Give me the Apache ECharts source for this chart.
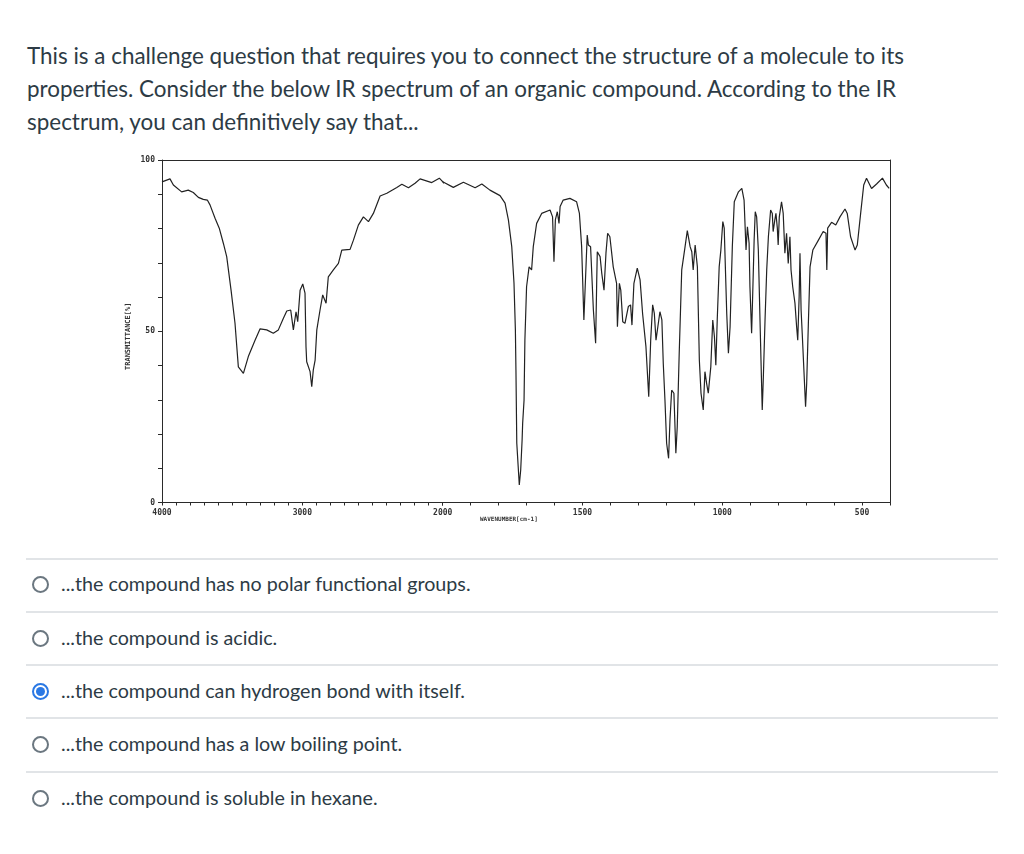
<!DOCTYPE html>
<html>
<head>
<meta charset="utf-8">
<script src="https://cdn.jsdelivr.net/npm/echarts@6/dist/echarts.min.js"></script>
<style>
  body{margin:0;background:#fff;font-family:Lato,"Open Sans",sans-serif;color:#2d3b45;}
  .page{position:relative;width:1024px;height:854px;overflow:hidden;}
  .question{position:absolute;left:27px;top:39px;width:905px;font-size:22.45px;line-height:33px;}
  .irChart{position:absolute;left:100px;top:150px;width:820px;height:390px;}
  .sep{position:absolute;left:26px;width:972px;height:2px;background:#e1e4e7;}
  .opt{position:absolute;left:61px;font-size:19.7px;line-height:24px;}
  .radio{position:absolute;left:32px;width:13px;height:13px;border:2px solid #6b7780;border-radius:50%;}
  .radio.on{border-color:#2a78e4;}
  .radio.on::after{content:"";position:absolute;left:2px;top:2px;width:9px;height:9px;border-radius:50%;background:#2a78e4;}
</style>
</head>
<body>
<div class="page">
  <div class="question">This is a challenge question that requires you to connect the structure of a molecule to its properties. Consider the below IR spectrum of an organic compound. According to the IR spectrum, you can definitively say that...</div>
  <div class="irChart" id="irChart"></div>

  <div class="sep" style="top:558px"></div>
  <div class="radio" style="top:576px"></div>
  <div class="opt" style="top:572px">...the compound has no polar functional groups.</div>

  <div class="sep" style="top:611px"></div>
  <div class="radio" style="top:630px"></div>
  <div class="opt" style="top:626px">...the compound is acidic.</div>

  <div class="sep" style="top:664px"></div>
  <div class="radio on" style="top:683px"></div>
  <div class="opt" style="top:679px">...the compound can hydrogen bond with itself.</div>

  <div class="sep" style="top:717px"></div>
  <div class="radio" style="top:736px"></div>
  <div class="opt" style="top:732px">...the compound has a low boiling point.</div>

  <div class="sep" style="top:771px"></div>
  <div class="radio" style="top:790px"></div>
  <div class="opt" style="top:786px">...the compound is soluble in hexane.</div>
</div>

<script>
// wavenumber (cm-1) and transmittance (%)
const wavenumber = [
  4000, 3943, 3919, 3860, 3813, 3777, 3741, 3706, 3677, 3658, 3622, 3592, 3563, 3539, 3508, 3480,
  3456, 3420, 3385, 3337, 3301, 3254, 3207, 3171, 3135, 3111, 3083, 3064, 3045, 3033, 3016, 2997,
  2981, 2974, 2969, 2945, 2933, 2922, 2909, 2897, 2874, 2855, 2831, 2815, 2779, 2743, 2719, 2660,
  2636, 2601, 2565, 2529, 2494, 2446, 2398, 2327, 2291, 2244, 2197, 2161, 2078, 2024,
  1962, 1926, 1884, 1860, 1831, 1795, 1777, 1765, 1753, 1745, 1740, 1738, 1735, 1730, 1726, 1721,
  1716, 1714, 1709, 1706, 1700, 1691, 1685, 1682, 1676, 1664, 1646, 1616, 1607, 1602, 1597, 1590,
  1584, 1580, 1569, 1545, 1521, 1511, 1503, 1495, 1487, 1483, 1479, 1471, 1461, 1453, 1449, 1447,
  1437, 1431, 1423, 1416, 1410, 1402, 1390, 1378, 1375, 1368, 1363, 1356, 1348, 1336, 1328, 1323,
  1316, 1304, 1294, 1285, 1273, 1263, 1256, 1249, 1243, 1237, 1231, 1223, 1216, 1211, 1205, 1199,
  1192, 1187, 1181, 1173, 1166, 1161, 1154, 1145, 1133, 1125, 1115, 1109, 1104, 1097, 1089, 1082,
  1076, 1068, 1062, 1056, 1050, 1041, 1034, 1028, 1023, 1018, 1011, 1005, 998, 993, 984, 978,
  972, 964, 957, 942, 930, 922, 915, 910, 904, 901, 895, 891, 886, 882, 877, 871,
  865, 860, 857, 853, 847, 841, 835, 827, 821, 818, 812, 808, 803, 800, 796, 788,
  782, 776, 770, 764, 758, 754, 748, 740, 734, 730, 725, 722, 718, 714, 708, 702,
  698, 692, 686, 676, 656, 639, 629, 626, 623, 609, 594, 579, 561, 553, 541, 525,
  517, 505, 494, 484, 466, 448, 427, 413, 403
];
const transmittance = [
  93.6, 94.5, 92.7, 90.7, 91.2, 90.5, 89.1, 88.5, 88.3, 86.9, 83.0, 80.1, 75.7, 71.8, 62.0, 52.4,
  39.6, 37.7, 42.6, 47.4, 50.7, 50.4, 49.4, 50.4, 53.8, 55.9, 56.2, 50.4, 55.7, 52.8, 62.0, 63.8,
  61.1, 45.5, 41.1, 38.2, 33.8, 38.7, 41.6, 50.4, 56.2, 60.6, 58.2, 65.9, 67.9, 69.8, 73.7, 73.9,
  76.6, 81.0, 83.4, 82.0, 84.4, 89.5, 90.3, 92.0, 92.9, 91.9, 93.2, 94.5, 93.4, 94.7,
  92.0, 93.5, 91.9, 93.0, 91.2, 89.6, 87.4, 82.5, 74.7, 64.1, 50.4, 38.7, 17.3, 10.5, 5.1, 9.5,
  18.2, 23.1, 29.9, 47.4, 63.0, 68.8, 69.3, 67.9, 74.7, 81.5, 84.4, 85.4, 83.4, 70.3, 82.5, 84.9,
  81.5, 86.4, 88.3, 88.8, 87.8, 84.4, 74.7, 53.3, 69.8, 78.1, 75.2, 74.7, 56.2, 46.5, 65.0, 73.2,
  71.8, 66.9, 62.0, 72.8, 78.6, 77.6, 68.8, 64.0, 51.3, 64.0, 62.0, 52.8, 52.3, 57.2, 57.7, 51.8,
  64.0, 68.4, 65.0, 55.2, 45.5, 30.9, 47.4, 57.7, 55.2, 47.4, 46.9, 55.7, 53.3, 40.6, 29.9, 17.3,
  12.9, 24.1, 32.8, 31.9, 14.4, 22.1, 43.6, 67.9, 74.7, 79.4, 74.7, 73.2, 67.9, 75.2, 68.8, 41.6,
  31.9, 27.0, 38.2, 34.8, 31.9, 39.6, 53.3, 48.4, 40.1, 53.3, 68.8, 73.7, 82.0, 80.1, 55.2, 43.6,
  51.3, 74.7, 87.8, 90.7, 91.7, 88.3, 73.7, 80.5, 75.7, 63.0, 49.4, 61.1, 76.6, 84.9, 83.4, 73.7,
  53.3, 36.7, 27.0, 36.7, 53.3, 67.9, 77.6, 85.4, 84.4, 79.1, 82.5, 84.4, 80.1, 75.2, 83.4, 87.8,
  84.4, 72.8, 78.6, 69.8, 77.6, 67.9, 63.0, 58.2, 51.3, 47.4, 60.1, 72.8, 56.2, 49.4, 38.7, 28.0,
  34.8, 52.3, 68.8, 73.7, 76.6, 79.1, 78.6, 67.9, 80.1, 81.8, 81.0, 83.4, 85.7, 84.4, 77.6, 73.7,
  75.2, 84.4, 92.7, 94.7, 91.7, 93.0, 94.7, 92.7, 91.7
];
const yLabels = [0, 50, 100];
const xLabelsHigh = [4000, 3000, 2000];
const xLabelsLow = [1500, 1000, 500];

const pairs = wavenumber.map((w, i) => [w, transmittance[i]]);
// the paper chart changes scale at 2000 cm-1, so two grids side by side
const highData = pairs.filter(p => p[0] >= 1960);
const lowData = pairs.filter(p => p[0] <= 2030);

const ink = '#2a2a2a';
const plain = v => String(v);
const tickFont = {fontFamily: 'DejaVu Sans Mono', fontSize: 8, fontWeight: 'bold', color: '#333', formatter: plain};
const lineStyle = {color: ink, width: 1};
const traceStyle = {color: '#222', width: 1.2};

const chart = echarts.init(document.getElementById('irChart'));

const option = {
  animation: false,
  grid: [
    {left: 62, top: 10, width: 280.7, height: 342.5},
    {left: 342.7, top: 10, width: 447.3, height: 342.5}
  ],
  xAxis: [
    {
      type: 'value', gridIndex: 0, position: 'bottom', inverse: true,
      min: 2000, max: 4000, interval: 100,
      axisLine: {lineStyle: lineStyle},
      axisTick: {length: 3, lineStyle: lineStyle},
      splitLine: {show: false},
      axisLabel: Object.assign({margin: 6, customValues: xLabelsHigh}, tickFont)
    },
    {
      type: 'value', gridIndex: 1, position: 'bottom', inverse: true,
      min: 400, max: 2000, interval: 100,
      axisLine: {lineStyle: lineStyle},
      axisTick: {length: 3, lineStyle: lineStyle},
      splitLine: {show: false},
      axisLabel: Object.assign({margin: 6, customValues: xLabelsLow}, tickFont)
    },
    {
      type: 'value', gridIndex: 0, position: 'top', inverse: true, min: 2000, max: 4000,
      axisLine: {lineStyle: lineStyle}, axisTick: {show: false}, axisLabel: {show: false}, splitLine: {show: false}
    },
    {
      type: 'value', gridIndex: 1, position: 'top', inverse: true, min: 400, max: 2000,
      axisLine: {lineStyle: lineStyle}, axisTick: {show: false}, axisLabel: {show: false}, splitLine: {show: false}
    }
  ],
  yAxis: [
    {
      type: 'value', gridIndex: 0, position: 'left', min: 0, max: 100, interval: 10,
      axisLine: {lineStyle: lineStyle},
      axisTick: {length: 4, lineStyle: lineStyle},
      splitLine: {show: false},
      axisLabel: Object.assign({margin: 7, customValues: yLabels}, tickFont)
    },
    {
      type: 'value', gridIndex: 1, position: 'right', min: 0, max: 100,
      axisLine: {lineStyle: lineStyle}, axisTick: {show: false}, axisLabel: {show: false}, splitLine: {show: false}
    }
  ],
  series: [
    {
      type: 'line', xAxisIndex: 0, yAxisIndex: 0, data: highData,
      showSymbol: false, clip: true, lineStyle: traceStyle
    },
    {
      type: 'line', xAxisIndex: 1, yAxisIndex: 1, data: lowData,
      showSymbol: false, clip: true, lineStyle: traceStyle
    }
  ],
  graphic: [
    {
      type: 'text', left: 380, top: 366,
      style: {text: 'WAVENUMBER[cm-1]', fontFamily: 'DejaVu Sans Mono', fontSize: 6, fontWeight: 'bold', fill: '#333'}
    },
    {
      type: 'text', x: 25, y: 220, rotation: Math.PI / 2,
      style: {text: 'TRANSMITTANCE[%]', fontFamily: 'DejaVu Sans Mono', fontSize: 7, fontWeight: 'bold', fill: '#333'}
    }
  ]
};

chart.setOption(option);
</script>
</body>
</html>
